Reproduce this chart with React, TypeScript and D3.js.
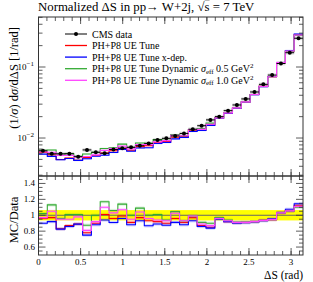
import React from "react";
import * as d3 from "d3";

const NBINS = 30;
const binEdges: number[] = d3.range(NBINS + 1).map((i) => (i * Math.PI) / NBINS);

const cmsData = [0.0066, 0.006, 0.006, 0.006, 0.00546, 0.0068, 0.0063, 0.0061, 0.0069, 0.0072,
  0.0074, 0.0078, 0.0084, 0.0094, 0.0099, 0.0107, 0.0116, 0.0133, 0.0149, 0.018,
  0.02, 0.0243, 0.0292, 0.0355, 0.0445, 0.057, 0.077, 0.112, 0.159, 0.254];

const ratioUE = [0.96, 0.97, 0.83, 0.87, 0.89, 0.78, 0.9, 1.01, 0.96, 0.99,
  0.91, 0.97, 0.93, 0.92, 0.9, 0.96, 0.91, 0.97, 0.87, 0.85,
  0.96, 0.92, 0.905, 0.91, 0.92, 0.935, 0.945, 1.03, 1.055, 1.125];
const ratioXdep = [0.9, 0.92, 0.825, 0.858, 0.888, 0.75, 0.88, 0.94, 0.908, 0.96,
  0.88, 0.93, 0.867, 0.89, 0.875, 0.91, 0.88, 0.93, 0.858, 0.838,
  0.95, 0.92, 0.9, 0.905, 0.915, 0.93, 0.955, 1.035, 1.075, 1.145];
const ratioDyn05 = [1.02, 1.13, 0.96, 1.01, 1.01, 0.875, 1.0, 1.17, 1.06, 1.14,
  1.0, 1.09, 1.0, 1.01, 0.94, 1.045, 0.93, 0.99, 0.91, 0.9,
  0.97, 0.94, 0.915, 0.915, 0.92, 0.935, 0.945, 1.03, 1.05, 1.1];
const ratioDyn10 = [0.97, 1.05, 0.95, 0.95, 0.98, 0.81, 0.92, 1.1, 1.03, 1.07,
  0.95, 1.04, 0.96, 0.94, 0.93, 1.025, 0.93, 0.99, 0.89, 0.87,
  0.96, 0.93, 0.91, 0.91, 0.92, 0.935, 0.945, 1.03, 1.055, 1.11];

const series = [
  { name: "PH+P8 UE Tune", color: "#ff0000", ratio: ratioUE },
  { name: "PH+P8 UE Tune x-dep.", color: "#0000ff", ratio: ratioXdep },
  { name: "PH+P8 UE Tune Dynamic", color: "#33aa33", ratio: ratioDyn05, sig: "0.5" },
  { name: "PH+P8 UE Tune Dynamic", color: "#ff44ff", ratio: ratioDyn10, sig: "1.0" },
];

const xTickLabels = ["0", "0.5", "1", "1.5", "2", "2.5", "3"];
const ratioTickLabels = ["0.6", "0.8", "1", "1.2", "1.4"];

const W = 313, H = 282;
const L = 38.5, R = 303, T = 17, MB = 176, RB = 255;
const FONT = "Liberation Serif, serif";

function stepPath(vals: number[], y: (v: number) => number, x: (v: number) => number) {
  let d = "";
  vals.forEach((v, i) => {
    const x0 = x(binEdges[i]), x1 = x(binEdges[i + 1]), yy = y(v);
    d += (i === 0 ? `M${x0},${yy}` : `L${x0},${yy}`) + `L${x1},${yy}`;
  });
  return d;
}

export default function App() {
  const x = d3.scaleLinear().domain([0, Math.PI]).range([L, R]);
  const y = d3.scaleLog().domain([0.00292, 0.506]).range([MB, T]);
  const yr = d3.scaleLinear().domain([0.5, 1.5]).range([RB, MB - 0.5]);

  const xMinor = d3.range(0, 3.15, 0.1);
  const xMajor = xTickLabels.map(Number);
  const yMinor: number[] = [];
  [0.001, 0.01, 0.1].forEach((dec) => {
    for (let k = 1; k <= 9; k++) {
      const v = dec * k;
      if (v >= 0.00292 && v <= 0.506) yMinor.push(v);
    }
  });
  const rMinor = d3.range(0.55, 1.5, 0.05);
  const frame = "#333";

  return (
    <svg width={W} height={H} style={{ position: "absolute", left: 0, top: 0 }} fontFamily={FONT}>
      <rect width={W} height={H} fill="#fff" />
      {/* title */}
      <text x={38} y={11} fontSize={12.8}>
        Normalized ΔS in pp→ W+2j, √<tspan textDecoration="overline">s</tspan> = 7 TeV
      </text>

      {/* main panel: data band */}
      {cmsData.map((v, i) => (
        <rect key={"db" + i} x={x(binEdges[i])} width={x(binEdges[i + 1]) - x(binEdges[i])}
          y={y(v * 1.06)} height={y(v * 0.94) - y(v * 1.06)} fill="#bbb" opacity={0.45} />
      ))}
      {/* MC bands & lines */}
      {series.map((s, si) => {
        const vals = cmsData.map((d, i) => d * s.ratio[i]);
        return (
          <g key={"mc" + si}>
            {vals.map((v, i) => (
              <rect key={i} x={x(binEdges[i])} width={x(binEdges[i + 1]) - x(binEdges[i])}
                y={y(v * 1.025)} height={y(v * 0.975) - y(v * 1.025)} fill={s.color} opacity={0.18} />
            ))}
            <path d={stepPath(vals, y, x)} fill="none" stroke={s.color} strokeWidth={1.1} />
          </g>
        );
      })}
      {/* data points */}
      {cmsData.map((v, i) => {
        const cx = x((binEdges[i] + binEdges[i + 1]) / 2);
        return (
          <g key={"dp" + i}>
            <line x1={x(binEdges[i])} x2={x(binEdges[i + 1])} y1={y(v)} y2={y(v)} stroke="#000" strokeWidth={1} />
            <line x1={cx} x2={cx} y1={y(v * 1.04)} y2={y(v * 0.96)} stroke="#000" strokeWidth={1} />
            <circle cx={cx} cy={y(v)} r={2} fill="#000" />
          </g>
        );
      })}

      {/* legend */}
      <g fontSize={10}>
        <line x1={65} x2={87} y1={34} y2={34} stroke="#000" strokeWidth={1} />
        <circle cx={76} cy={34} r={2} fill="#000" />
        <text x={92} y={37.5}>CMS data</text>
        {series.map((s, i) => {
          const yy = 45.5 + i * 11.6;
          return (
            <g key={"lg" + i}>
              <line x1={65} x2={87} y1={yy} y2={yy} stroke={s.color} strokeWidth={1.3} />
              <text x={92} y={yy + 3.5}>
                {s.name}
                {s.sig ? (
                  <>
                    {" "}<tspan fontStyle="italic">σ</tspan>
                    <tspan fontSize={7} dy={1.5}>eff</tspan>
                    <tspan dy={-1.5}>{" " + s.sig + " GeV"}</tspan>
                    <tspan fontSize={7} dy={-4}>2</tspan>
                  </>
                ) : null}
              </text>
            </g>
          );
        })}
      </g>

      {/* ratio panel */}
      <rect x={L} width={R - L} y={yr(1.065)} height={yr(0.935) - yr(1.065)} fill="#ffff00" />
      <line x1={L} x2={R} y1={yr(1)} y2={yr(1)} stroke="#666" strokeWidth={1} />
      {series.map((s, si) => (
        <g key={"rt" + si}>
          {s.ratio.map((v, i) => (
            <rect key={i} x={x(binEdges[i])} width={x(binEdges[i + 1]) - x(binEdges[i])}
              y={yr(v + 0.02)} height={yr(v - 0.02) - yr(v + 0.02)} fill={s.color} opacity={0.18} />
          ))}
          <path d={stepPath(s.ratio, yr, x)} fill="none" stroke={s.color} strokeWidth={1.1} />
        </g>
      ))}

      {/* frames */}
      <rect x={L} y={T} width={R - L} height={MB - T} fill="none" stroke={frame} strokeWidth={1} />
      <rect x={L} y={MB} width={R - L} height={RB - MB} fill="none" stroke={frame} strokeWidth={1} />

      {/* x ticks */}
      {xMinor.map((v, i) => {
        const xx = x(v);
        return (
          <g key={"xm" + i} stroke={frame} strokeWidth={0.8}>
            <line x1={xx} x2={xx} y1={T} y2={T + 4} />
            <line x1={xx} x2={xx} y1={MB} y2={MB - 4} />
            <line x1={xx} x2={xx} y1={MB} y2={MB + 4} />
            <line x1={xx} x2={xx} y1={RB} y2={RB - 4} />
          </g>
        );
      })}
      {xMajor.map((v, i) => {
        const xx = x(v);
        return (
          <g key={"xM" + i} stroke={frame} strokeWidth={0.8}>
            <line x1={xx} x2={xx} y1={T} y2={T + 7} />
            <line x1={xx} x2={xx} y1={MB - 7} y2={MB + 7} />
            <line x1={xx} x2={xx} y1={RB} y2={RB - 7} />
          </g>
        );
      })}
      {xTickLabels.map((t, i) => (
        <text key={"xl" + i} x={x(xMajor[i])} y={265} fontSize={9} textAnchor="middle">{t}</text>
      ))}
      <text x={R} y={279} fontSize={11.5} textAnchor="end">ΔS (rad)</text>

      {/* main y ticks */}
      {yMinor.map((v, i) => {
        const yy = y(v);
        const major = Math.abs(Math.log10(v) - Math.round(Math.log10(v))) < 1e-6;
        const len = major ? 7 : 4;
        return (
          <g key={"ym" + i} stroke={frame} strokeWidth={0.8}>
            <line x1={L} x2={L + len} y1={yy} y2={yy} />
            <line x1={R} x2={R - len} y1={yy} y2={yy} />
          </g>
        );
      })}
      <text x={34} y={y(0.1) + 3} fontSize={9} textAnchor="end">10<tspan fontSize={7} dy={-4}>−1</tspan></text>
      <text x={34} y={y(0.01) + 3} fontSize={9} textAnchor="end">10<tspan fontSize={7} dy={-4}>−2</tspan></text>
      <text transform={`translate(18,27) rotate(-90)`} fontSize={12.5} textAnchor="end">
        (1/<tspan fontStyle="italic">σ</tspan>) d<tspan fontStyle="italic">σ</tspan>/dΔS  [1/rad]
      </text>

      {/* ratio y ticks */}
      {rMinor.map((v, i) => {
        const yy = yr(v);
        const major = Math.abs(v * 5 - Math.round(v * 5)) < 1e-6;
        const len = major ? 7 : 4;
        return (
          <g key={"rm" + i} stroke={frame} strokeWidth={0.8}>
            <line x1={L} x2={L + len} y1={yy} y2={yy} />
            <line x1={R} x2={R - len} y1={yy} y2={yy} />
          </g>
        );
      })}
      {ratioTickLabels.map((t, i) => (
        <text key={"rl" + i} x={35} y={yr(Number(t)) + 3} fontSize={9} textAnchor="end">{t}</text>
      ))}
      <text transform={`translate(18,220) rotate(-90)`} fontSize={12.5} textAnchor="middle">MC/Data</text>
    </svg>
  );
}
